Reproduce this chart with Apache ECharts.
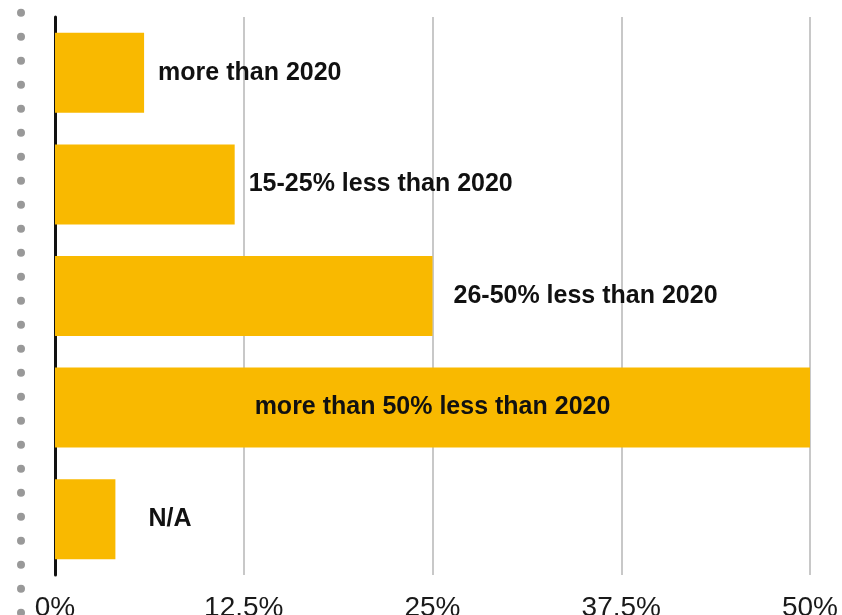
<!DOCTYPE html>
<html>
<head>
<meta charset="utf-8">
<script src="https://cdn.jsdelivr.net/npm/echarts@6/dist/echarts.min.js"></script>
<style>
  html, body { margin: 0; padding: 0; background: #fff; }
  #chart { width: 842px; height: 615px; }
</style>
</head>
<body>
<div id="chart"></div>
<script>
// categories and values (percent of respondents)
const categories = ['more than 2020', '15-25% less than 2020', '26-50% less than 2020', 'more than 50% less than 2020', 'N/A']
const values = [5.9, 11.9, 25, 50, 4]
const xTicks = [0, 12.5, 25, 37.5, 50]

// label gaps from bar end; 0 means inside the bar
const labelGap = [14, 14, 21, 0, 33]

const chart = echarts.init(document.getElementById('chart'))

const option = {
  animation: false,
  grid: { left: 55, right: 32, top: 17, bottom: 40, outerBoundsMode: 'none' },
  graphic: [
    {
      // dotted rail on the left
      type: 'line',
      shape: { x1: 21, y1: 12.7, x2: 21, y2: 614 },
      style: { stroke: '#999', lineWidth: 8, lineDash: [0, 24], lineCap: 'round' },
      silent: true,
    },
  ],
  xAxis: {
    type: 'value',
    min: xTicks[0],
    max: xTicks[xTicks.length - 1],
    interval: 12.5,
    axisLine: { show: false },
    axisTick: { show: false },
    splitLine: { lineStyle: { color: '#c8c8c8', width: 2 } },
    axisLabel: {
      color: '#1a1a1a',
      fontSize: 28,
      fontFamily: 'Liberation Sans, Arial, sans-serif',
      margin: 19,
      formatter: v => v + '%',
    },
  },
  yAxis: {
    type: 'category',
    inverse: true,
    data: categories,
    axisLine: { lineStyle: { color: '#111', width: 3 } },
    axisTick: { show: false },
    axisLabel: { show: false },
  },
  series: [
    {
      type: 'bar',
      barWidth: 80,
      itemStyle: { color: '#F9B900' },
      data: values.map((v, i) => ({
        value: v,
        label: labelGap[i] === 0
          ? { position: 'inside' }
          : { position: 'right', distance: labelGap[i] },
      })),
      label: {
        show: true,
        formatter: p => categories[p.dataIndex],
        color: '#111',
        fontSize: 25,
        fontWeight: 'bold',
        fontFamily: 'Liberation Sans, Arial, sans-serif',
      },
    },
  ],
}

chart.setOption(option)
</script>
</body>
</html>
